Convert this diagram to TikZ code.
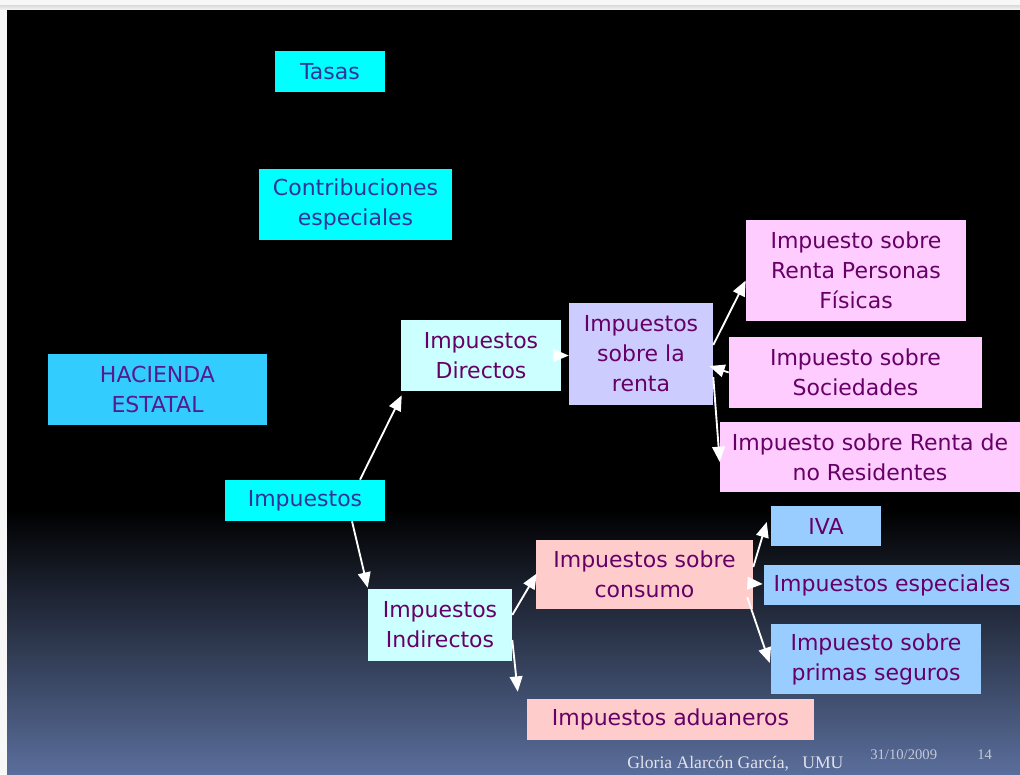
\documentclass[tikz,border=0pt]{standalone}
\usepackage{fontspec}
\setmainfont{DejaVu Sans}
\newfontfamily\footfont{Liberation Serif}
\usetikzlibrary{arrows.meta,calc}
\definecolor{cyanbox}{HTML}{00FFFF}
\definecolor{skybox}{HTML}{33CCFF}
\definecolor{lcyan}{HTML}{CCFFFF}
\definecolor{lavender}{HTML}{CCCCFF}
\definecolor{pinkbox}{HTML}{FFCCFF}
\definecolor{salmon}{HTML}{FFCCCC}
\definecolor{bluebox}{HTML}{99CCFF}
\definecolor{txtblue}{HTML}{333399}
\definecolor{txtpurple}{HTML}{551A8B}
\definecolor{txtp}{HTML}{660066}
\definecolor{bgbottom}{RGB}{90,110,155}
\definecolor{footc}{HTML}{E2E2EA}
\definecolor{datec}{HTML}{C4C8D8}
\begin{document}
\begin{tikzpicture}[x=0.75pt,y=-0.75pt,
  box/.style={inner sep=0pt, align=center, font=\fontsize{16.5}{22.5}\selectfont, text=txtp},
  sz/.style 2 args={minimum width=#1*0.75pt, minimum height=#2*0.75pt},
  arr/.style={draw=white, line width=1.4pt, -{Triangle[length=11.5pt,width=9.5pt]}}]
\useasboundingbox (0,0) rectangle (1020,774);
% page frame
\fill[gray!6] (0,0) rectangle (1020,774);
\shade[top color=gray!25, bottom color=gray!6] (0,6) rectangle (1020,10);
\fill[black] (7,10) rectangle (1020,510);
\shade[top color=black, bottom color=bgbottom] (7,509) rectangle (1020,774);
% boxes
\node[box, sz={110}{41}, fill=cyanbox, text=txtblue] (tasas) at (330,71.5) {Tasas};
\node[box, sz={193}{71}, fill=cyanbox, text=txtblue] (contrib) at (355.5,204.5) {Contribuciones\\especiales};
\node[box, sz={219}{71}, fill=skybox, text=txtpurple] (hac) at (157.5,389.5) {HACIENDA\\ESTATAL};
\node[box, sz={160}{41}, fill=cyanbox, text=txtblue] (imp) at (305,500.5) {Impuestos};
\node[box, sz={160}{71}, fill=lcyan] (dir) at (481,355.5) {Impuestos\\Directos};
\node[box, sz={144}{102}, fill=lavender] (renta) at (641,354) {Impuestos\\sobre la\\renta};
\node[box, sz={220}{101}, fill=pinkbox] (rpf) at (856,270.5) {Impuesto sobre\\Renta Personas\\Físicas};
\node[box, sz={253}{71}, fill=pinkbox] (soc) at (855.5,372.5) {Impuesto sobre\\Sociedades};
\node[box, sz={300}{70}, fill=pinkbox] (nores) at (870,457) {Impuesto sobre Renta de\\no Residentes};
\node[box, sz={144}{72}, fill=lcyan] (ind) at (440,625) {Impuestos\\Indirectos};
\node[box, sz={217}{69}, fill=salmon] (cons) at (644.5,574.5) {Impuestos sobre\\consumo};
\node[box, sz={287}{41}, fill=salmon] (adu) at (670.5,719.5) {Impuestos aduaneros};
\node[box, sz={110}{40}, fill=bluebox] (iva) at (826,526) {IVA};
\node[box, sz={256}{40}, fill=bluebox] (esp) at (892,585) {Impuestos especiales};
\node[box, sz={210}{70}, fill=bluebox] (primas) at (876,659) {Impuesto sobre\\primas seguros};
% arrows
\draw[arr] ($(imp.north)+(55,0)$) -- ($(dir.south west)+(1,4)$);
\draw[arr] ($(imp.south)+(47,0)$) -- ($(ind.north west)+(0,-1)$);
\draw[arr] (dir.east) -- (renta.west |- dir.east);
\draw[arr] ($(renta.east)+(0,-9)$) -- ($(rpf.west)+(0,10)$);
\draw[arr] (soc.west) -- ($(renta.east)+(-4,12)$);
\draw[arr] ($(renta.east)+(0,23)$) -- ($(nores.west)+(0,5)$);
\draw[arr] ($(ind.east)+(0,-10)$) -- ($(cons.west)+(1,-1)$);
\draw[arr] ($(ind.east)+(0,15)$) -- ($(adu.north west)+(-9,-7)$);
\draw[arr] ($(cons.east)+(0,-7.5)$) -- ($(iva.west)+(-4,-4)$);
\draw[arr] ($(cons.east)+(0,9)$) -- ($(esp.west)+(-1,-1)$);
\draw[arr] ($(cons.south east)+(-6,-12)$) -- ($(primas.west)+(-1,4)$);
% footer
\node[anchor=base west, inner sep=0pt, text=footc, font=\footfont\fontsize{13.2}{15}\selectfont] (author) at (627,768) {Gloria Alarcón García,\hspace{10pt}UMU};
\node[anchor=base west, inner sep=0pt, text=datec, font=\footfont\fontsize{11}{13}\selectfont] (date) at (870,759) {31/10/2009};
\node[anchor=base west, inner sep=0pt, text=datec, font=\footfont\fontsize{11}{13}\selectfont] (page) at (977,759) {14};
\end{tikzpicture}
\end{document}
